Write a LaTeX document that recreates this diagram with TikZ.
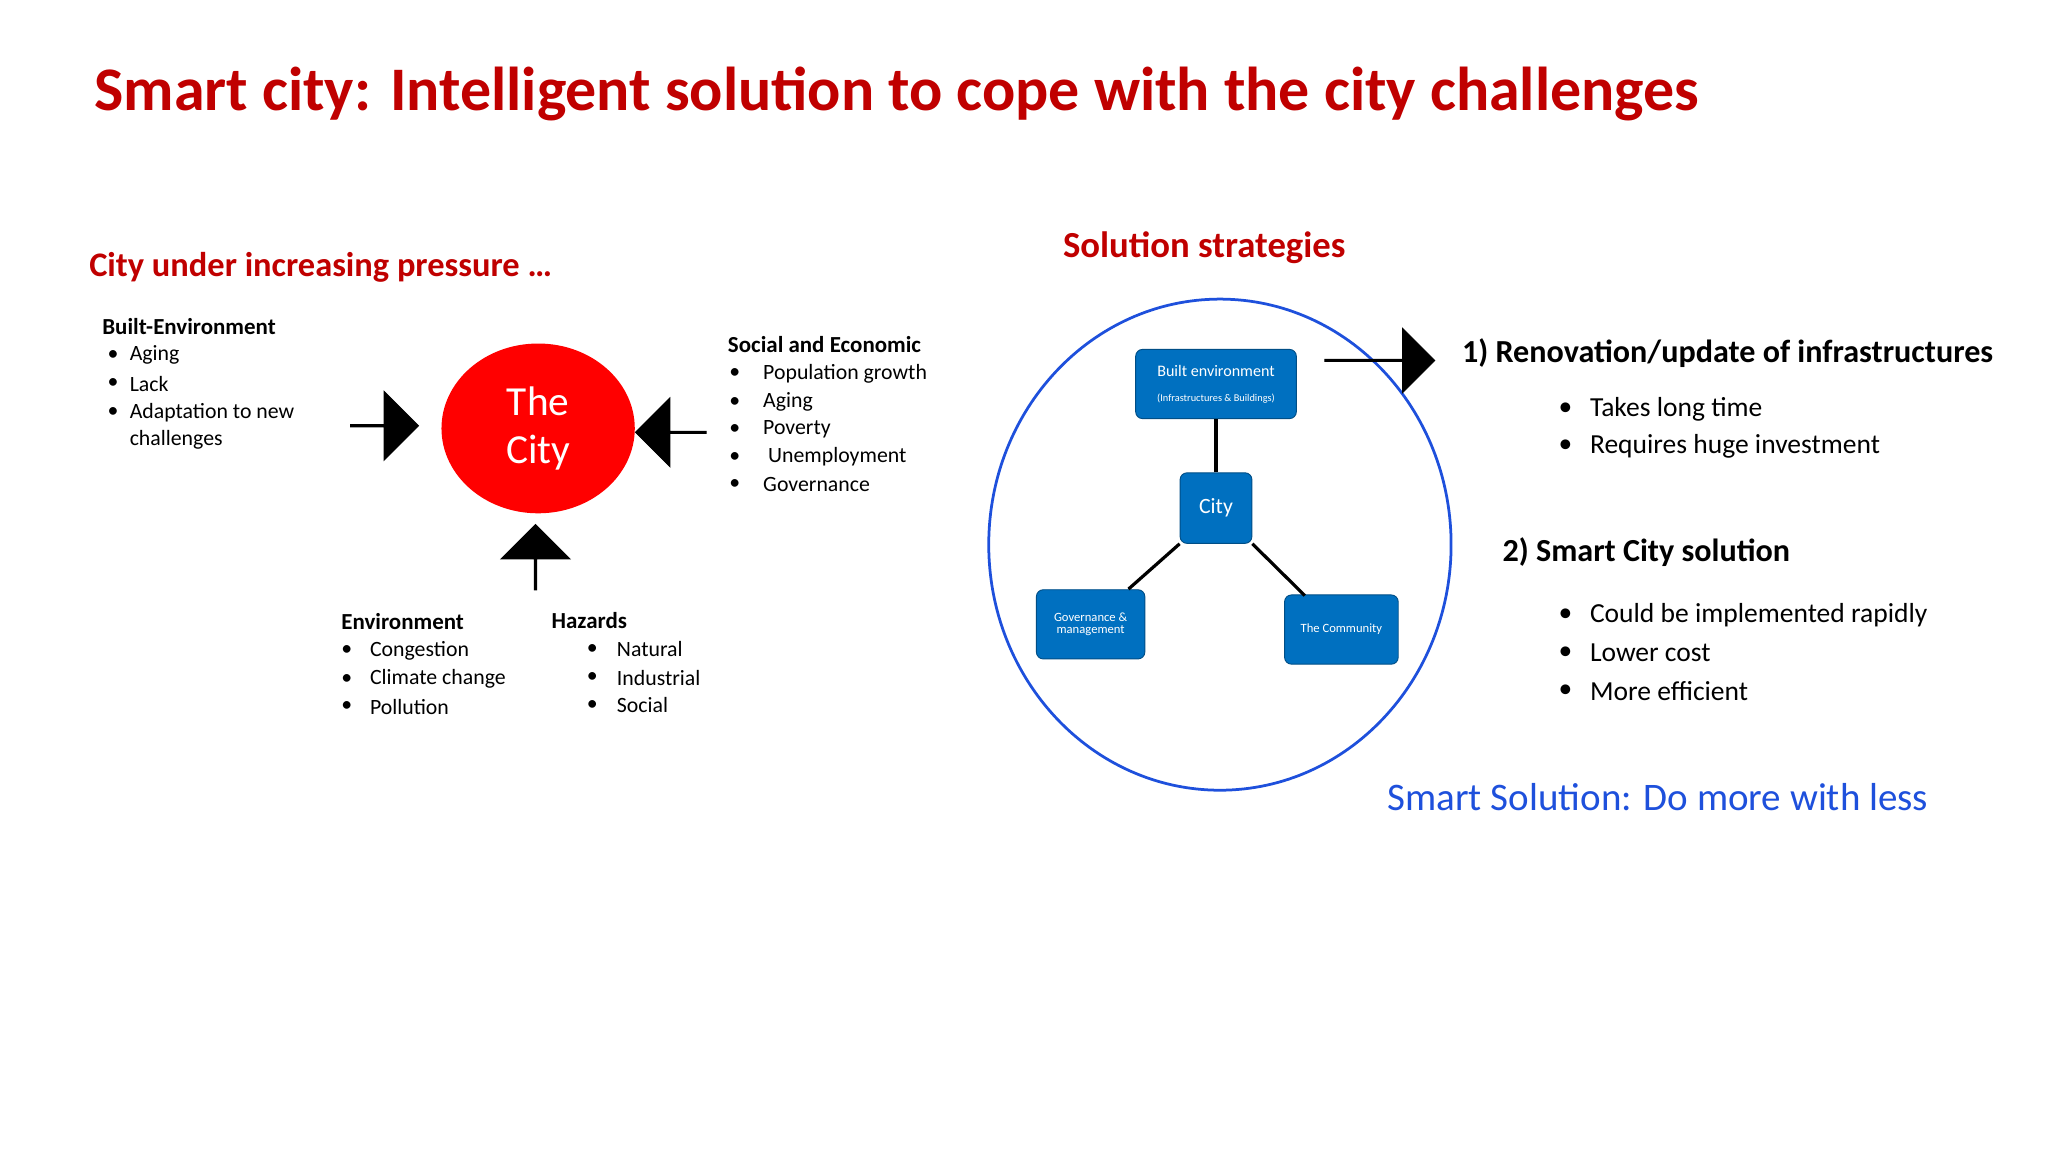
\documentclass[tikz,border=0pt]{standalone}
\usepackage{fontspec}
\setmainfont{Carlito}
\usetikzlibrary{shapes.arrows,shapes.geometric}
\definecolor{tred}{RGB}{192,0,0}
\definecolor{bbox}{RGB}{0,112,192}
\definecolor{cblue}{RGB}{30,80,220}
\newcommand{\fs}[1]{\fontsize{#1}{#1}\selectfont}
\tikzset{
 lbl/.style={anchor=west,inner sep=0pt},
 bul/.style={anchor=west,inner sep=0pt,font=\fs{9.5pt}},
 bigarrow/.style={single arrow,fill=black,draw=black,minimum height=#1,minimum width=30,single arrow head extend=6,inner sep=0pt},
 bluebox/.style={draw=bbox!70!black,fill=bbox,rounded corners=3,text=white,align=center,inner sep=1pt},
 conn/.style={line width=1.4pt,black}
}
\begin{document}
\begin{tikzpicture}[x=0.02cm,y=-0.02cm]
\useasboundingbox (0,0) rectangle (1568,882);
\fill[white] (0,0) rectangle (1568,882);
\node[lbl,text=tred,font=\fs{27pt}\bfseries] (title) at (72,72) {Smart city: Intelligent solution to cope with the city challenges};
\node[lbl,text=tred,font=\fs{15pt}\bfseries] (left) at (68,205) {City under increasing pressure …};
% built environment
\node[lbl,font=\fs{10pt}\bfseries] (be) at (78,250) {Built-Environment};
\foreach \t/\y in {Aging/272,Lack/294,Adaptation to new/316}{\node[bul] at (82,\y) {•}; \node[bul] at (99,\y) {\t};}
\node[bul] (ch) at (99,337) {challenges};
% city
\node[ellipse,fill=red,minimum width=148*0.02cm,minimum height=130*0.02cm,inner sep=0pt,text=white,align=center,font=\fs{18pt}] (city) at (412,328) {The\\[3pt]City};
\node[bigarrow=52*0.02cm] (a1) at (294,326) {};
\node[bigarrow=54*0.02cm,shape border rotate=180] (a2) at (514,331) {};
\node[bigarrow=50*0.02cm,shape border rotate=90] (a3) at (410,427) {};
% social
\node[lbl,font=\fs{10pt}\bfseries] (se) at (557,264) {Social and Economic};
\foreach \t/\y in {Population growth/286,Aging/308,Poverty/329,{\ Unemployment}/350,Governance/371}{\node[bul] at (558,\y) {•}; \node[bul] at (584,\y) {\t};}
% environment
\node[lbl,font=\fs{10pt}\bfseries] (env) at (261,476) {Environment};
\foreach \t/\y in {Congestion/498,Climate change/520,Pollution/541}{\node[bul] at (261,\y) {•}; \node[bul] at (283,\y) {\t};}
\node[lbl,font=\fs{10pt}\bfseries] (haz) at (422,475) {Hazards};
\foreach \t/\y in {Natural/497,Industrial/519,Social/540}{\node[bul] at (449,\y) {•}; \node[bul] at (472,\y) {\t};}
% right
\node[text=tred,font=\fs{16pt}\bfseries,inner sep=0pt] (ss) at (922,190) {Solution strategies};
\draw[cblue,line width=1.2pt] (934,417) ellipse [x radius=177,y radius=188];
\node[bluebox,minimum width=123*0.02cm,minimum height=53*0.02cm] (bb) at (931,294) {{\fs{7pt}Built environment}\\[-1pt]{\fs{4.5pt}(Infrastructures \& Buildings)}};
\node[bluebox,minimum width=55*0.02cm,minimum height=54*0.02cm,font=\fs{9.5pt}] (cb) at (931,389) {City};
\node[bluebox,minimum width=83*0.02cm,minimum height=53*0.02cm,font=\fs{5.5pt}] (gb) at (835,478) {Governance \&\\management};
\node[bluebox,minimum width=87*0.02cm,minimum height=53*0.02cm,font=\fs{5.5pt}] (tc) at (1027,482) {The Community};
\draw[conn] (cb.north) -- (bb.south);
\draw[conn] (cb.south west) -- (864,451);
\draw[conn] (cb.south east) -- (999,456);
\node[bigarrow=84*0.02cm,minimum width=28] (a4) at (1056,276) {};
\node[lbl,font=\fs{14pt}\bfseries] (r1) at (1119,270) {1) Renovation/update of infrastructures};
\foreach \t/\y in {Takes long time/313,Requires huge investment/342}{\node[bul,font=\fs{12pt}] at (1193,\y) {•}; \node[bul,font=\fs{12pt}] at (1217,\y) {\t};}
\node[lbl,font=\fs{14pt}\bfseries] (r2) at (1150,423) {2) Smart City solution};
\foreach \t/\y in {Could be implemented rapidly/471,Lower cost/500,More efficient/529}{\node[bul,font=\fs{12pt}] at (1193,\y) {•}; \node[bul,font=\fs{12pt}] at (1217,\y) {\t};}
\node[lbl,text=cblue,font=\fs{17pt}] (sm) at (1062,610) {Smart Solution: Do more with less};
\end{tikzpicture}
\end{document}
